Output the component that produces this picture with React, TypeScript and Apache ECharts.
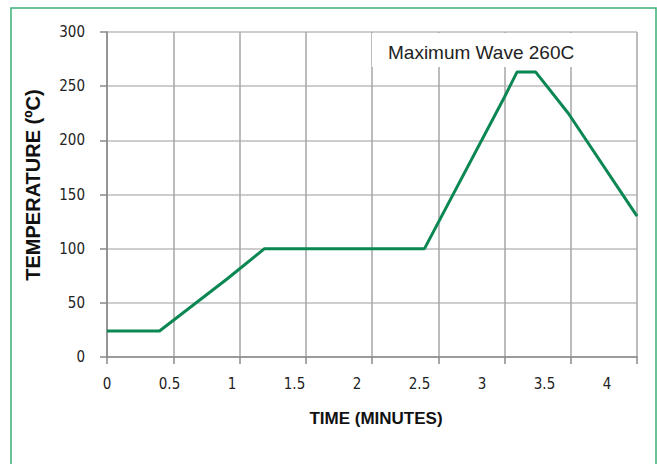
import React, { useEffect, useRef } from "react";
import * as echarts from "echarts";

const timeMinutes = [0, 0.42, 0.96, 1.26, 2.54, 3.18, 3.28, 3.43, 3.69, 4.24];
const temperatureC = [24, 24, 72, 100, 100, 240, 263, 263, 225, 130];
const xTickLabels = [0, 0.5, 1, 1.5, 2, 2.5, 3, 3.5, 4];
const annotationText = "Maximum Wave 260C";

export default function App() {
  const ref = useRef<HTMLDivElement>(null);
  useEffect(() => {
    document.body.style.margin = "0";
    const chart = echarts.init(ref.current!, undefined, { renderer: "svg" });
    const narrow = "'DejaVu Sans Condensed', 'Liberation Sans Narrow', 'Liberation Sans', Arial, sans-serif";
    const data = timeMinutes.map((t, i) => [t, temperatureC[i]]);
    chart.setOption({
      animation: false,
      backgroundColor: "#ffffff",
      grid: { left: 107, right: 20, top: 32, bottom: 107, containLabel: false },
      xAxis: [
        {
          type: "value",
          min: 0,
          max: 4.24,
          interval: 0.5,
          axisLine: { show: false },
          axisTick: { show: false },
          splitLine: { show: false },
          axisLabel: {
            margin: 19,
            color: "#222",
            fontFamily: narrow,
            fontSize: 15,
            showMaxLabel: false,
            formatter: (v: number) => (xTickLabels.includes(v) ? String(v) : ""),
          },
        },
        {
          type: "value",
          min: 0,
          max: 8,
          interval: 1,
          position: "bottom",
          axisLine: { show: true, lineStyle: { color: "#8a8a8a", width: 1.5 } },
          axisTick: { show: true, length: 7, lineStyle: { color: "#8a8a8a", width: 1.5 } },
          axisLabel: { show: false },
          splitLine: { show: true, lineStyle: { color: "#a6a6a6", width: 1.5 } },
        },
      ],
      yAxis: {
        type: "value",
        min: 0,
        max: 300,
        interval: 50,
        axisLine: { show: true, lineStyle: { color: "#8a8a8a", width: 1.5 } },
        axisTick: { show: true, length: 7, lineStyle: { color: "#8a8a8a", width: 1.5 } },
        splitLine: { show: true, lineStyle: { color: "#bcbcbc", width: 1.5 } },
        axisLabel: { margin: 22, color: "#222", fontFamily: narrow, fontSize: 15 },
      },
      series: [
        {
          type: "line",
          xAxisIndex: 0,
          data,
          symbol: "none",
          lineStyle: { color: "#0b8753", width: 3 },
          z: 5,
        },
      ],
      graphic: [
        {
          type: "rect",
          z: 3,
          shape: { x: 11, y: 8, width: 645, height: 500 },
          style: { fill: "none", stroke: "#3aae78", lineWidth: 1.5 },
        },
        {
          type: "rect",
          z: 3,
          shape: { x: 372, y: 33, width: 264, height: 34 },
          style: { fill: "#ffffff" },
        },
        {
          type: "text",
          z: 4,
          x: 388,
          y: 52,
          style: {
            text: annotationText,
            fill: "#222",
            fontFamily: "'Liberation Sans', Arial, sans-serif",
            fontSize: 19,
            textVerticalAlign: "middle",
          },
        },
        {
          type: "text",
          z: 4,
          x: 33,
          y: 185,
          rotation: Math.PI / 2,
          style: {
            text: "TEMPERATURE (ºC)",
            fill: "#111",
            fontFamily: "'Liberation Sans', Arial, sans-serif",
            fontWeight: "bold",
            fontSize: 20,
            textAlign: "center",
            textVerticalAlign: "middle",
          },
        },
        {
          type: "text",
          z: 4,
          x: 376,
          y: 418,
          style: {
            text: "TIME (MINUTES)",
            fill: "#111",
            fontFamily: "'Liberation Sans', Arial, sans-serif",
            fontWeight: "bold",
            fontSize: 17,
            textAlign: "center",
            textVerticalAlign: "middle",
          },
        },
      ],
    });
    return () => chart.dispose();
  }, []);
  return <div ref={ref} style={{ width: 657, height: 464 }} />;
}
